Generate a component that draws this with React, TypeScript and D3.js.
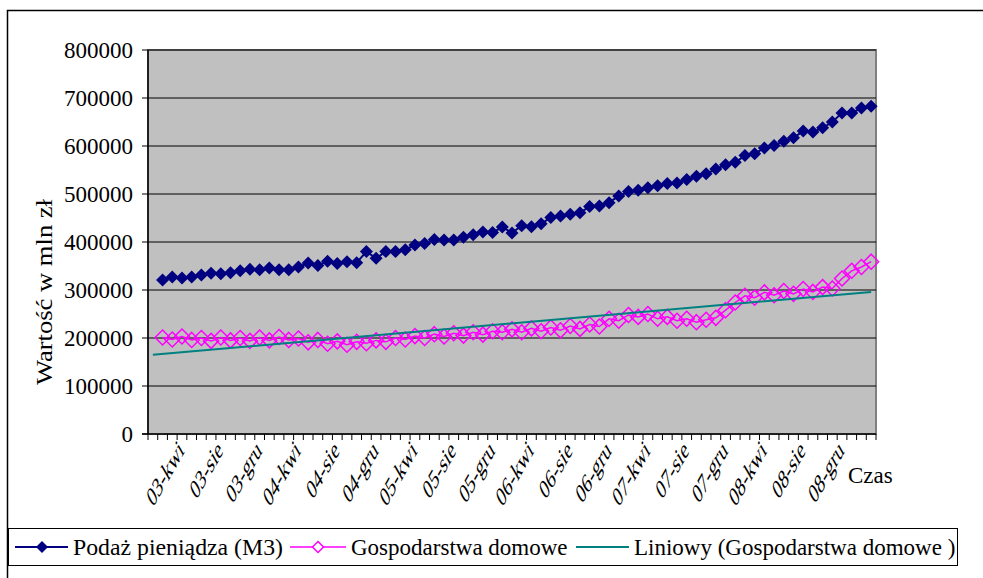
import React from "react";
import * as d3 from "d3";

// months Jan 2003 .. Mar 2009, the first row (03-sty) is empty in the source sheet
const MONTHS = ["sty", "lut", "mar", "kwi", "maj", "cze", "lip", "sie", "wrz", "paź", "lis", "gru"];
const YEARS = ["03", "04", "05", "06", "07", "08", "09"];
const categories = YEARS.flatMap(y => MONTHS.map(m => `${y}-${m}`)).slice(0, 75);

const tickLabels = [
    "03-kwi", "03-sie", "03-gru", "04-kwi", "04-sie", "04-gru",
    "05-kwi", "05-sie", "05-gru", "06-kwi", "06-sie", "06-gru",
    "07-kwi", "07-sie", "07-gru", "08-kwi", "08-sie", "08-gru"
];

const yTicks = [0, 100000, 200000, 300000, 400000, 500000, 600000, 700000, 800000];

// Podaż pieniądza (M3), mln zł
const m3 = [null,
    321000, 327000, 325000, 327000, 331000, 335000, 334000, 336000, 340000, 343000,
    342000, 346000, 342000, 342000, 348000, 356000, 351000, 360000, 355000, 359000,
    357000, 380000, 366000, 380000, 380000, 384000, 394000, 397000, 405000, 404000,
    404000, 410000, 415000, 421000, 420000, 431000, 419000, 434000, 432000, 438000,
    451000, 454000, 458000, 461000, 474000, 475000, 482000, 496000, 505000, 508000,
    513000, 517000, 522000, 523000, 530000, 537000, 542000, 552000, 561000, 566000,
    580000, 584000, 596000, 601000, 610000, 617000, 631000, 629000, 638000, 650000,
    669000, 669000, 679000, 683000
];

// Gospodarstwa domowe, mln zł
const households = [null,
    201000, 197000, 203000, 196000, 200000, 194000, 201000, 195000, 200000, 194000,
    201000, 195000, 202000, 196000, 199000, 191000, 196000, 188000, 193000, 186000,
    192000, 189000, 195000, 192000, 200000, 197000, 204000, 200000, 208000, 203000,
    210000, 205000, 212000, 207000, 214000, 212000, 218000, 212000, 220000, 214000,
    222000, 216000, 225000, 219000, 228000, 224000, 240000, 236000, 248000, 244000,
    250000, 240000, 244000, 236000, 240000, 233000, 238000, 242000, 258000, 274000,
    288000, 284000, 295000, 289000, 298000, 292000, 302000, 296000, 306000, 303000,
    324000, 340000, 348000, 359000
];

const W = 983, H = 578;
const plot = {left: 148, right: 876, top: 50, bottom: 434};
const FONT = "Liberation Serif, DejaVu Serif, serif";
const NAVY = "#000080", PINK = "#FF00FF", TEAL = "#008080";

const diamond = (x: number, y: number, r: number) =>
    `M${x},${y - r}L${x + r},${y}L${x},${y + r}L${x - r},${y}Z`;

// linear trend of a series over category index (blank cells skipped)
function linearFit(values: (number | null)[]) {
    const pts = values.map((v, i) => [i, v] as [number, number | null]).filter(p => p[1] != null) as [number, number][];
    const mx = d3.mean(pts, p => p[0])!;
    const my = d3.mean(pts, p => p[1])!;
    const sxy = d3.sum(pts, p => (p[0] - mx) * (p[1] - my));
    const sxx = d3.sum(pts, p => (p[0] - mx) ** 2);
    const slope = sxy / sxx;
    return (i: number) => my + slope * (i - mx);
}

const txt = {fontFamily: FONT};

const App = () => {
    const x = d3.scaleBand().domain(categories).range([plot.left, plot.right]).padding(0);
    const y = d3.scaleLinear().domain([0, 800000]).range([plot.bottom, plot.top]);
    const bw = x.bandwidth();
    const cx = (c: string) => x(c)! + bw / 2;

    const line = d3.line<[string, number | null]>()
        .defined(d => d[1] != null)
        .x(d => cx(d[0]))
        .y(d => y(d[1] as number));

    const m3Pts = categories.map((c, i) => [c, m3[i]] as [string, number | null]);
    const hhPts = categories.map((c, i) => [c, households[i]] as [string, number | null]);

    const trend = linearFit(households);
    const first = categories[0], last = categories[categories.length - 1];
    const trendPath = d3.line<string>()
        .x(c => cx(c))
        .y(c => y(trend(categories.indexOf(c))))([first, last]);

    const tickEdges = categories.map(c => x(c)!).concat([plot.right]);

    return (
        <svg width={W} height={H} style={{position: "absolute", left: 0, top: 0, background: "#fff"}}>
            {/* chart border */}
            <path d={`M7.5,${H + 5}V10.5H${W + 5}`} fill="none" stroke="#000" strokeWidth={1.5}/>

            {/* plot area */}
            <rect x={plot.left} y={plot.top} width={plot.right - plot.left} height={plot.bottom - plot.top}
                  fill="#C0C0C0" stroke="#808080" strokeWidth={2}/>
            {yTicks.slice(1).map(t => (
                <line key={t} x1={plot.left} x2={plot.right} y1={y(t)} y2={y(t)} stroke="#000" strokeWidth={1}/>
            ))}

            {/* y axis */}
            <line x1={plot.left} x2={plot.left} y1={plot.top} y2={plot.bottom} stroke="#000" strokeWidth={1.5}/>
            {yTicks.map(t => (
                <g key={t}>
                    <line x1={plot.left - 6} x2={plot.left} y1={y(t)} y2={y(t)} stroke="#000"/>
                    <text x={133} y={y(t)} dy="0.35em" textAnchor="end" fontSize={23} style={txt}>{t}</text>
                </g>
            ))}
            <text transform={`translate(52,292) rotate(-90)`} textAnchor="middle"
                  fontSize={23} textLength={186} lengthAdjust="spacingAndGlyphs" style={txt}>Wartość w mln zł</text>

            {/* x axis */}
            <line x1={plot.left - 6} x2={plot.right} y1={plot.bottom} y2={plot.bottom} stroke="#000" strokeWidth={1.5}/>
            {tickEdges.map((e, i) => (
                <line key={i} x1={e} x2={e} y1={plot.bottom} y2={plot.bottom + 6} stroke="#000"/>
            ))}
            {tickLabels.map(c => (
                <text key={c} transform={`translate(${cx(c) + 3},${plot.bottom + 18}) scale(1,1.75) rotate(-45)`}
                      textAnchor="end" fontSize={16} style={txt}>{c}</text>
            ))}
            <text x={848} y={483} fontSize={23} style={txt}>Czas</text>

            {/* series */}
            <path d={line(m3Pts)!} fill="none" stroke={NAVY} strokeWidth={2}/>
            {m3Pts.filter(d => d[1] != null).map(d => (
                <path key={d[0]} d={diamond(cx(d[0]), y(d[1] as number), 6.5)} fill={NAVY}/>
            ))}
            <path d={line(hhPts)!} fill="none" stroke={PINK} strokeWidth={1.5}/>
            {hhPts.filter(d => d[1] != null).map(d => (
                <path key={d[0]} d={diamond(cx(d[0]), y(d[1] as number), 7.5)} fill="none" stroke={PINK}
                      strokeWidth={1.5}/>
            ))}
            <path d={trendPath!} fill="none" stroke={TEAL} strokeWidth={2}/>

            {/* legend */}
            <rect x={8.5} y={528.5} width={949} height={37} fill="#fff" stroke="#000" strokeWidth={1}/>
            <line x1={15} x2={68} y1={547} y2={547} stroke={NAVY} strokeWidth={2}/>
            <path d={diamond(42, 547, 6)} fill={NAVY}/>
            <text x={73} y={555} fontSize={23} textLength={210} lengthAdjust="spacingAndGlyphs" style={txt}>Podaż pieniądza (M3)</text>
            <line x1={290} x2={346} y1={547} y2={547} stroke={PINK} strokeWidth={1.5}/>
            <path d={diamond(318, 547, 5.5)} fill="#fff" stroke={PINK} strokeWidth={1.5}/>
            <text x={351} y={555} fontSize={23} style={txt}>Gospodarstwa domowe</text>
            <line x1={576} x2={629} y1={547} y2={547} stroke={TEAL} strokeWidth={2}/>
            <text x={634} y={555} fontSize={23} style={txt}>Liniowy (Gospodarstwa domowe )</text>
        </svg>
    );
};

export default App;
